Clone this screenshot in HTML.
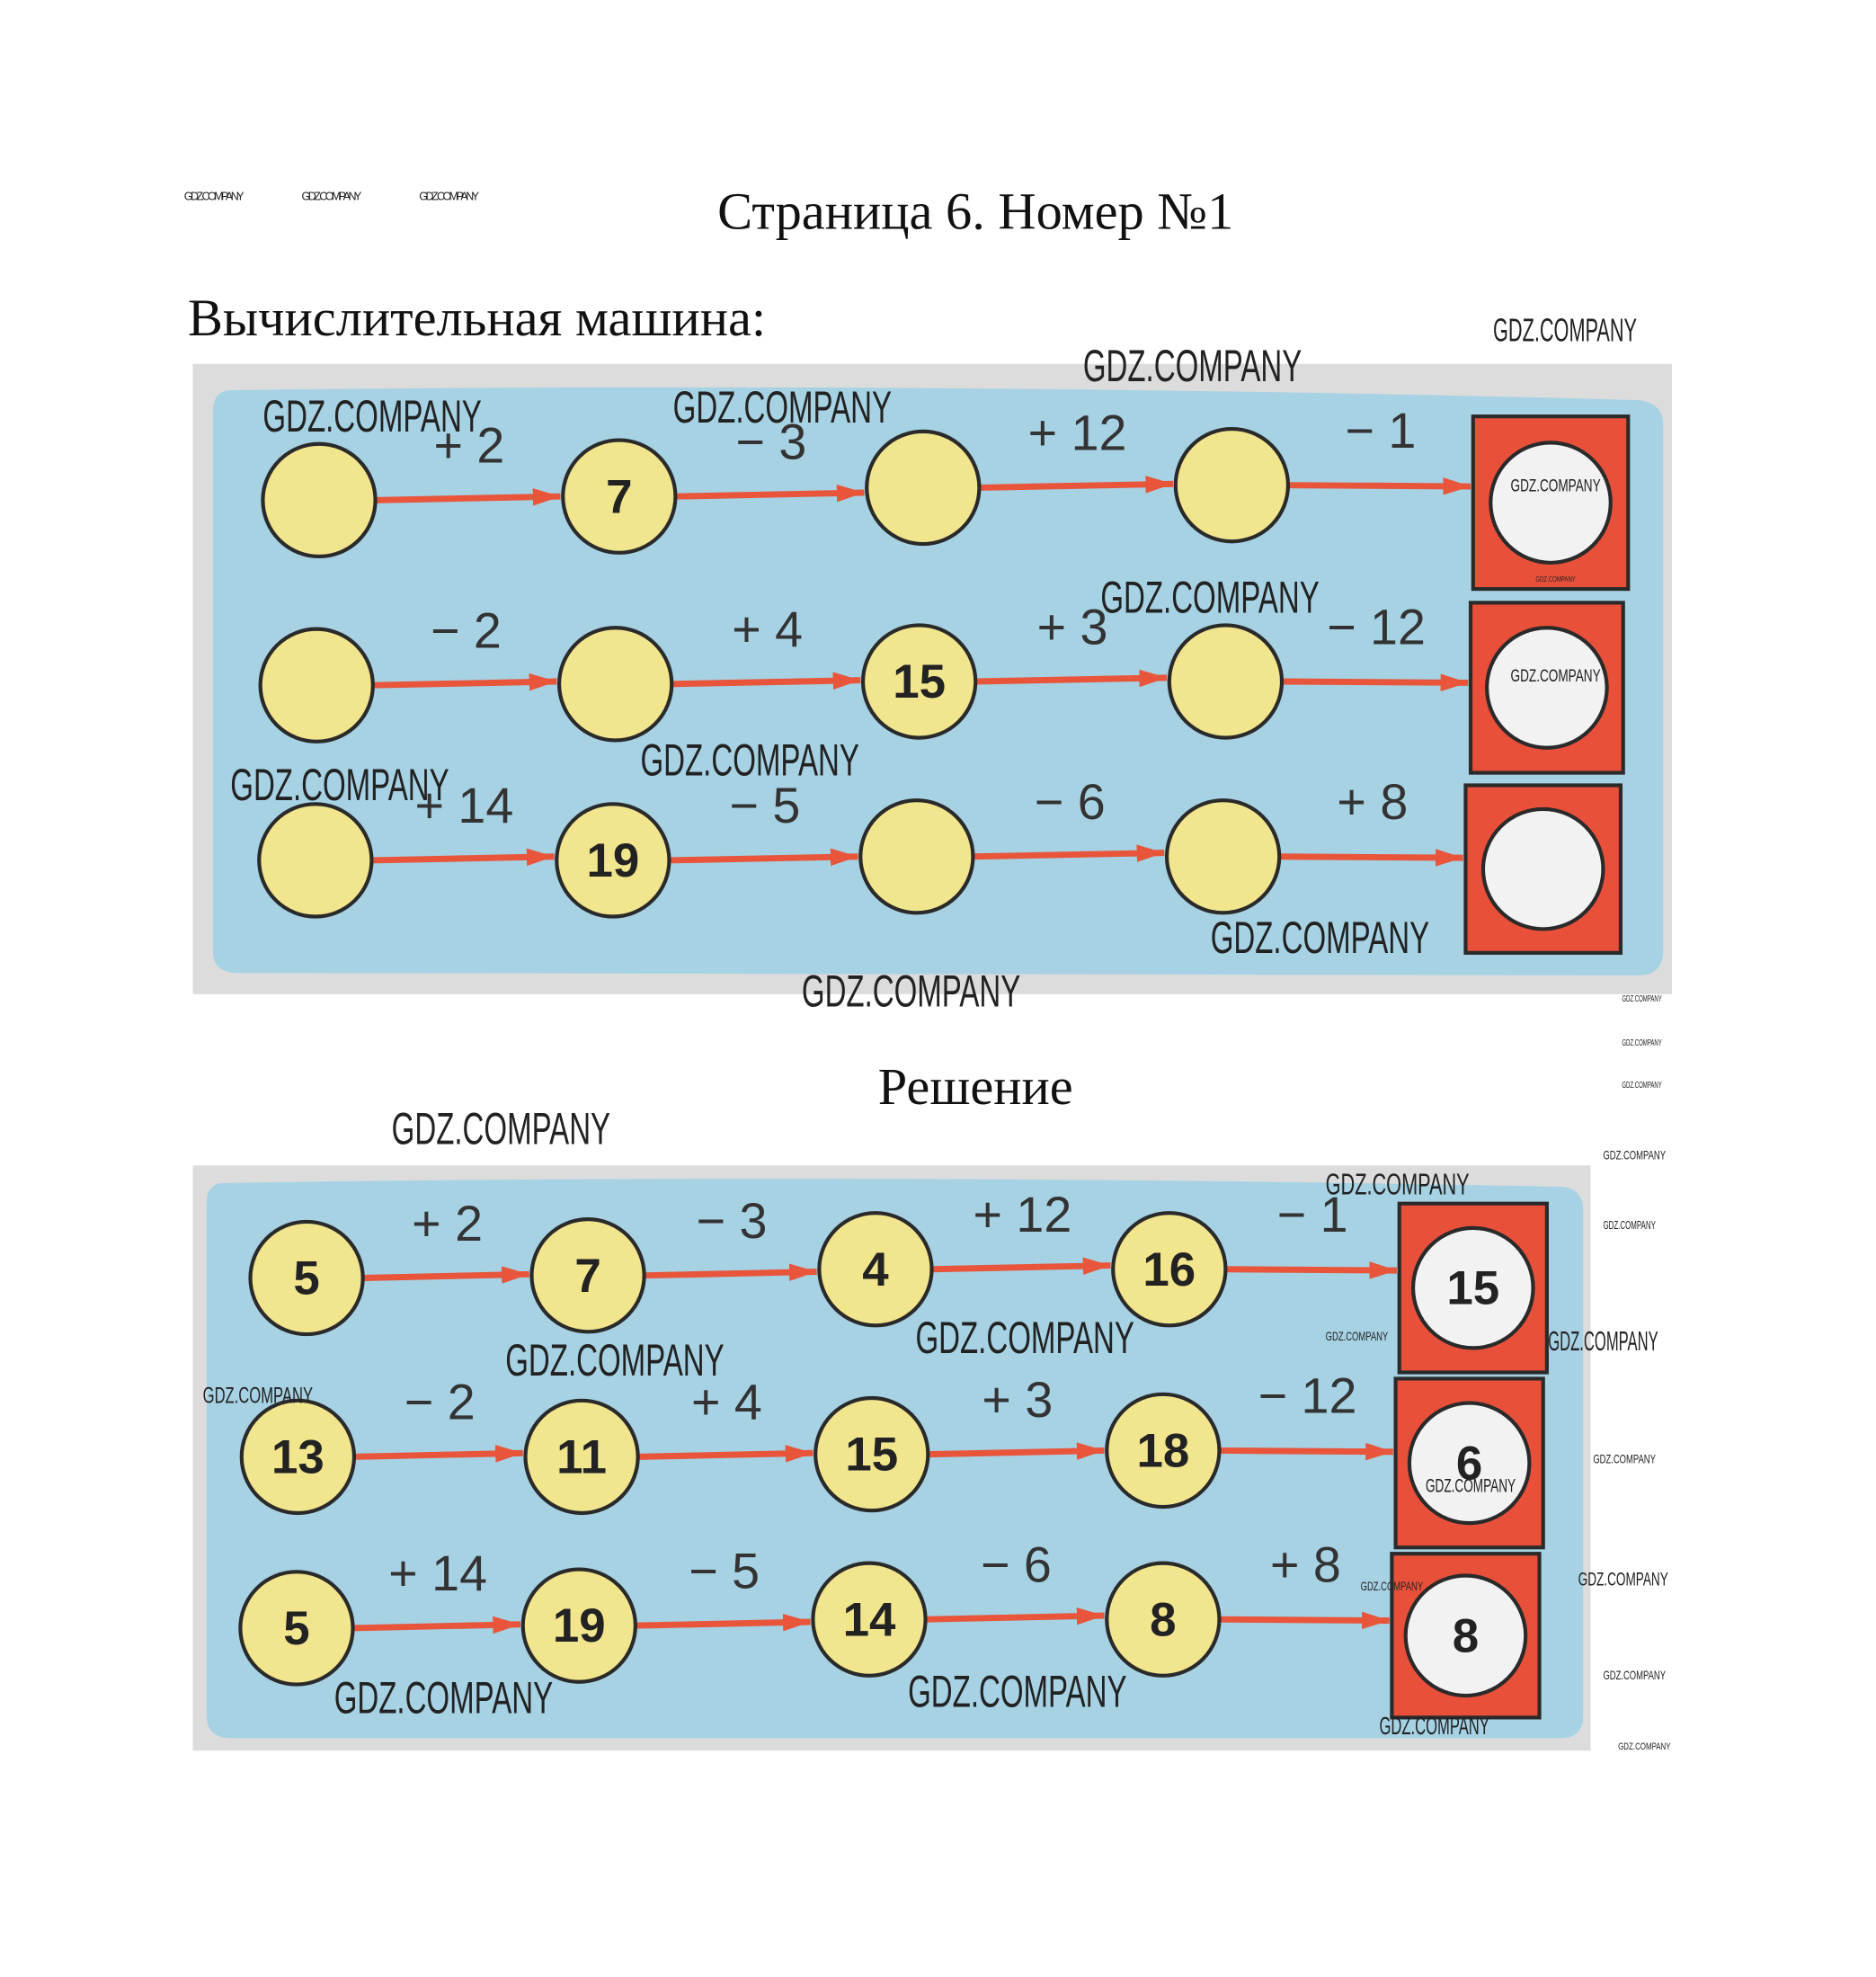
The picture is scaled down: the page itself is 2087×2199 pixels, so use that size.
<!DOCTYPE html>
<html><head><meta charset="utf-8"><style>
html,body{margin:0;padding:0;background:#fff;}
svg{display:block;}
.t{font-family:"Liberation Serif",serif;fill:#111;}
.op{font-family:"Liberation Sans",sans-serif;font-size:40px;fill:#333;}
.n{font-family:"Liberation Sans",sans-serif;font-weight:bold;font-size:38px;fill:#222;text-anchor:middle;}
.w{font-family:"Liberation Sans",sans-serif;fill:#222;}
</style></head><body>
<svg width="2087" height="2199" viewBox="0 0 1500 1581" xmlns="http://www.w3.org/2000/svg">
<defs>
<marker id="ah2" viewBox="0 0 10 10" markerWidth="22" markerHeight="14" refX="10" refY="5" orient="auto" markerUnits="userSpaceOnUse" preserveAspectRatio="none"><path d="M0,0 L10,5 L0,10 z" fill="#e8553a"/></marker>
</defs>
<g class="w">
<text x="147" y="160" font-size="9" textLength="48">GDZ.COMPANY</text>
<text x="241" y="160" font-size="9" textLength="48">GDZ.COMPANY</text>
<text x="335" y="160" font-size="9" textLength="48">GDZ.COMPANY</text>
</g>
<text class="t" x="780" y="183" font-size="42" text-anchor="middle">Страница 6. Номер №1</text>
<text class="t" x="150" y="268" font-size="42">Вычислительная машина:</text>
<rect x="154" y="291" width="1183" height="504" fill="#dcdcdc"/>
<path d="M185,312 Q170,312 170,330 L170,760 Q170,778 190,778 L1310,780 Q1330,780 1330,760 L1330,340 Q1330,322 1310,320 Q760,305 185,312 z" fill="#a6d2e4"/>
<rect x="154" y="932" width="1118" height="468" fill="#dcdcdc"/>
<path d="M180,946 Q165,946 165,962 L165,1372 Q165,1390 185,1390 L1248,1390 Q1266,1390 1266,1372 L1266,968 Q1266,950 1248,949 Q700,938 180,946 z" fill="#a6d2e4"/>
<g id="diagram"></g>
<text class="t" x="780" y="883" font-size="42" text-anchor="middle">Решение</text>
<script>
(function(){
var NS="http://www.w3.org/2000/svg",g=document.getElementById('diagram');
function el(n,a,txt){var e=document.createElementNS(NS,n);for(var k in a)e.setAttribute(k,a[k]);if(txt!=null)e.textContent=txt;g.appendChild(e);return e;}
function row(cs,sq,ops,nums,r){
 for(var i=0;i<4;i++){
  var a=cs[i];
  var x1=a[0]+r,x2=(i<3?cs[i+1][0]-r:sq[0]-sq[2]/2);
  var y2=(i<3?a[1]-3:a[1]+1);
  el('line',{x1:x1,y1:a[1],x2:x2-2,y2:y2,stroke:'#e8553a','stroke-width':5,'marker-end':'url(#ah2)'});
  el('text',{'class':'op',x:(x1+x2)/2,y:a[1]-30,'text-anchor':'middle'},ops[i]);
 }
 for(var i=0;i<4;i++){
  el('circle',{cx:cs[i][0],cy:cs[i][1],r:r,fill:'#f1e58e',stroke:'#2a2a2a','stroke-width':3});
  if(nums[i])el('text',{'class':'n',x:cs[i][0],y:cs[i][1]+13},nums[i]);
 }
 el('rect',{x:sq[0]-sq[2]/2,y:sq[1]-sq[3]/2,width:sq[2],height:sq[3],fill:'#e9503a',stroke:'#2a2a2a','stroke-width':3});
 el('circle',{cx:sq[0],cy:sq[1],r:48,fill:'#f2f2f2',stroke:'#2a2a2a','stroke-width':3});
 if(nums[4])el('text',{'class':'n',x:sq[0],y:sq[1]+13},nums[4]);
}
row([[255,400],[495,397],[738,390],[985,388]],[1240,402,124,138],['+ 2','− 3','+ 12','− 1'],['','7','','',''],45);
row([[253,548],[492,547],[735,545],[980,545]],[1237,550,122,136],['− 2','+ 4','+ 3','− 12'],['','','15','',''],45);
row([[252,688],[490,688],[733,685],[978,685]],[1234,695,124,134],['+ 14','− 5','− 6','+ 8'],['','19','','',''],45);
row([[245,1022],[470,1020],[700,1015],[935,1015]],[1178,1030,118,135],['+ 2','− 3','+ 12','− 1'],['5','7','4','16','15'],45);
row([[238,1165],[465,1165],[697,1163],[930,1160]],[1175,1170,118,135],['− 2','+ 4','+ 3','− 12'],['13','11','15','18','6'],45);
row([[237,1302],[463,1300],[695,1295],[930,1295]],[1172,1308,118,131],['+ 14','− 5','− 6','+ 8'],['5','19','14','8','8'],45);
var W=[[210,345,36,175],[538,338,36,175],[866,305,36,175],[880,490,36,175],[184,640,36,175],[512,620,36,175],[968,762,36,175],[641,805,36,175],[313,915,36,175],[404,1100,36,175],[732,1082,36,175],[267,1370,36,175],[726,1365,36,175],
[1194,273,26,115],[1060,955,24,115],[1238,1080,22,88],[1103,1387,20,88],[162,1122,18,88],[1208,393,14,72],[1208,545,14,72],[1140,1193,15,72],[1060,1072,10,50],[1088,1272,10,50],
[1262,1268,15,72],[1274,1170,10,50],[1282,927,10,50],[1282,983,9,42],[1297,801,7,32],[1297,836,7,32],[1297,870,7,32],[1282,1343,10,50],[1294,1399,8,42],[1228,465,6,32]];
W.forEach(function(w){el('text',{'class':'w',x:w[0],y:w[1],'font-size':w[2],textLength:w[3],lengthAdjust:'spacingAndGlyphs'},'GDZ.COMPANY');});
})();
</script>
</svg>
</body></html>
